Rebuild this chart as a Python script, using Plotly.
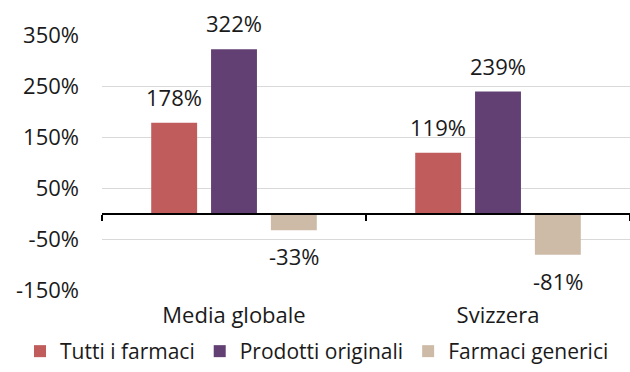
import plotly.graph_objects as go

# Variazione percentuale dei prezzi per categoria di farmaco
categories = ["Media globale", "Svizzera"]
series_names = ["Tutti i farmaci", "Prodotti originali", "Farmaci generici"]
tutti = [178, 119]
originali = [322, 239]
generici = [-33, -81]
series_values = [tutti, originali, generici]
colors = ["#c05c5c", "#634073", "#cdbba8"]

y_ticks = [-150, -50, 50, 150, 250, 350]
y_tick_labels = ["-150%", "-50%", "50%", "150%", "250%", "350%"]

FONT = "Open Sans"
FS = 22
W, H = 630, 372
# plot area in pixels (left, right, top, bottom)
PX_L, PX_R, PX_T, PX_B = 102, 630, 35, 290
Y_MIN, Y_MAX = -150, 350

x_dom = [PX_L / W, PX_R / W]
y_dom = [(H - PX_B) / H, (H - PX_T) / H]

fig = go.Figure()
for name, vals, col in zip(series_names, series_values, colors):
    fig.add_trace(go.Bar(
        name=name, x=categories, y=vals,
        marker=dict(color=col, line=dict(width=0)),
        hoverinfo="skip",
    ))

# value labels placed beyond the end of each bar
slot_px = 60  # width of one bar slot inside a group
for i, vals in enumerate(series_values):
    for cat, v in zip(categories, vals):
        fig.add_annotation(
            x=cat, y=v, xref="x", yref="y",
            text=f"{v}%", showarrow=False,
            xshift=(i - 1) * slot_px,
            yshift=26 if v >= 0 else -26,
            font=dict(family=FONT, size=FS, color="#1a1a1a"),
        )

# invisible trace carrying the axis drawn through zero
fig.add_trace(go.Scatter(
    x=categories, y=[0, 0], xaxis="x2", mode="none",
    showlegend=False, hoverinfo="skip",
))

zero_frac = (0 - Y_MIN) / (Y_MAX - Y_MIN)
zero_pos = y_dom[0] + zero_frac * (y_dom[1] - y_dom[0])

fig.update_layout(
    width=W, height=H,
    margin=dict(l=0, r=0, t=0, b=0),
    paper_bgcolor="white", plot_bgcolor="white",
    barmode="group", bargap=0.32, bargroupgap=0.233,
    font=dict(family=FONT, size=FS, color="#1a1a1a"),
    showlegend=True,
    legend=dict(
        orientation="h",
        x=20 / W, xref="paper", xanchor="left",
        y=0, yanchor="bottom", yref="paper",
        font=dict(family=FONT, size=21, color="#1a1a1a"),
        traceorder="normal", itemwidth=30,
    ),
    xaxis=dict(
        domain=x_dom, automargin=False,
        type="category", range=[-0.5, 1.5],
        showline=False, showgrid=False, zeroline=False,
        ticks="", ticklabelstandoff=10,
        tickfont=dict(family=FONT, size=FS, color="#1a1a1a"),
    ),
    xaxis2=dict(
        domain=x_dom, automargin=False,
        type="category", range=[-0.5, 1.5], overlaying="x",
        anchor="free", position=zero_pos,
        showline=True, linecolor="black", linewidth=2,
        ticks="outside", tickson="boundaries", ticklen=6,
        tickcolor="black", tickwidth=2,
        showticklabels=False, showgrid=False, zeroline=False,
    ),
    yaxis=dict(
        domain=y_dom, automargin=False,
        range=[Y_MIN, Y_MAX],
        tickvals=y_ticks, ticktext=y_tick_labels,
        showgrid=True, gridcolor="#d9d9d9", gridwidth=1,
        zeroline=False, showline=False, ticks="",
        ticklabelstandoff=22,
        tickfont=dict(family=FONT, size=FS, color="#1a1a1a"),
    ),
)

fig.write_html("out.html")
